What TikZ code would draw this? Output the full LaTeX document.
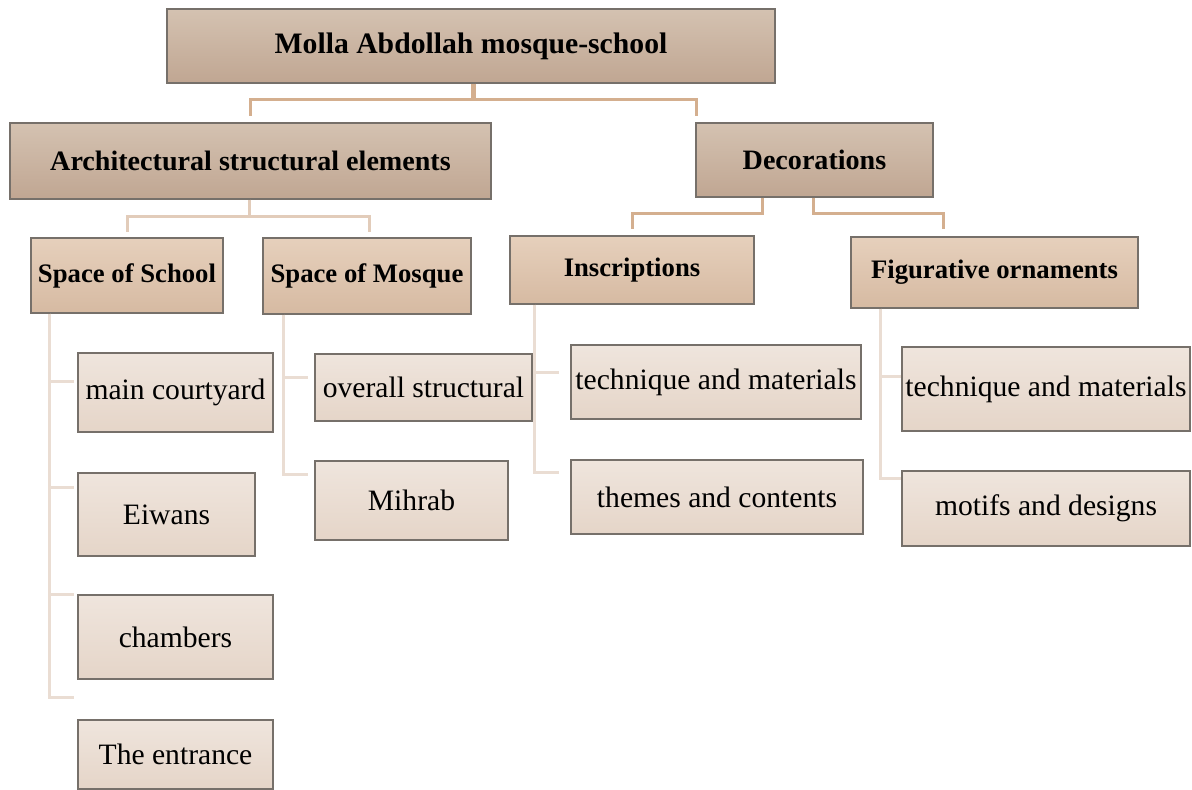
\documentclass[tikz,border=0pt]{standalone}
\usepackage{fontspec}
\setmainfont{Liberation Serif}
\definecolor{topA}{RGB}{212,194,177}
\definecolor{botA}{RGB}{192,166,146}
\definecolor{topB}{RGB}{230,208,188}
\definecolor{botB}{RGB}{214,186,162}
\definecolor{topC}{RGB}{239,229,221}
\definecolor{botC}{RGB}{229,213,200}
\definecolor{edge}{RGB}{118,112,106}
\definecolor{lineA}{RGB}{212,175,143}
\definecolor{lineB}{RGB}{226,204,186}
\definecolor{lineC}{RGB}{234,221,211}
\begin{document}
\begin{tikzpicture}[x=1pt, y=-1pt,
    box/.style={rectangle, draw=edge, line width=1.4pt, inner sep=0pt},
    lvl1/.style={box, top color=topA, bottom color=botA, font=\fontsize{28.1}{30}\selectfont\bfseries},
    lvl2/.style={box, top color=topB, bottom color=botB, font=\fontsize{26.7}{29}\selectfont\bfseries},
    leaf/.style={box, top color=topC, bottom color=botC, font=\fontsize{29.6}{32}\selectfont},
    linkA/.style={draw=lineA, line width=3pt},
    linkB/.style={draw=lineB, line width=3pt},
    linkC/.style={draw=lineC, line width=3pt}]
    \useasboundingbox (0,0) rectangle (1192,790);

    \node[lvl1, minimum width=608pt, minimum height=74pt, font=\fontsize{29.7}{32}\selectfont\bfseries] (root) at (471,46) {Molla Abdollah mosque-school};
    \node[lvl1, minimum width=481pt, minimum height=76pt] (arch) at (250.5,161) {Architectural structural elements};
    \node[lvl1, minimum width=237pt, minimum height=74pt] (deco) at (814.5,160) {Decorations};

    \node[lvl2, minimum width=192pt, minimum height=75pt] (school) at (127,275.5) {Space of School};
    \node[lvl2, minimum width=208pt, minimum height=76pt] (mosque) at (367,276) {Space of Mosque};
    \node[lvl2, minimum width=244pt, minimum height=68pt] (insc) at (632,270) {Inscriptions};
    \node[lvl2, minimum width=287pt, minimum height=71pt] (figur) at (994.5,272.5) {Figurative ornaments};

    \node[leaf, minimum width=195pt, minimum height=79pt] (court) at (175.5,392.5) {main courtyard};
    \node[leaf, minimum width=177pt, minimum height=83pt] (eiwans) at (166.5,514.5) {Eiwans};
    \node[leaf, minimum width=195pt, minimum height=84pt] (chamb) at (175.5,637) {chambers};
    \node[leaf, minimum width=195pt, minimum height=69pt] (entr) at (175.5,754.5) {The entrance};

    \node[leaf, minimum width=217pt, minimum height=67pt] (overall) at (423.5,387.5) {overall structural};
    \node[leaf, minimum width=193pt, minimum height=79pt] (mihrab) at (411.5,500.5) {Mihrab};

    \node[leaf, minimum width=290pt, minimum height=74pt] (techA) at (716,382) {technique and materials};
    \node[leaf, minimum width=292pt, minimum height=74pt] (themes) at (717,497) {themes and contents};

    \node[leaf, minimum width=288pt, minimum height=84pt] (techB) at (1046,389) {technique and materials};
    \node[leaf, minimum width=288pt, minimum height=75pt] (motifs) at (1046,508.5) {motifs and designs};

    % niveau 1
    \draw[linkA] ([xshift=1pt]root.south) -- ++(0,16) -| ([yshift=6pt]arch.north);
    \draw[linkA] ([xshift=3pt]root.south) -- ++(0,16) -| ([xshift=1pt,yshift=6pt]deco.north west);

    % niveau 2
    \draw[linkB] ([xshift=-1.5pt]arch.south) -- ++(0,17) -| ([yshift=5pt]school.north);
    \draw[linkB] ([xshift=-1.5pt]arch.south) -- ++(0,17) -| ([xshift=2pt,yshift=5pt]mosque.north);
    \draw[linkA] ([xshift=-52.5pt]deco.south) -- ++(0,16) -| ([yshift=6pt]insc.north);
    \draw[linkA] ([xshift=-1.5pt]deco.south) -- ++(0,16) -| ([xshift=-51.5pt,yshift=7pt]figur.north);

    % feuilles
    \draw[linkC] ([xshift=19pt]school.south west) |- ([xshift=-3pt,yshift=11.5pt]court.west);
    \draw[linkC] ([xshift=19pt]school.south west) |- ([xshift=-3pt,yshift=27.5pt]eiwans.west);
    \draw[linkC] ([xshift=19pt]school.south west) |- ([xshift=-3pt,yshift=43pt]chamb.west);
    \draw[linkC] ([xshift=19pt]school.south west) |- ([xshift=-3pt,yshift=57.5pt]entr.west);

    \draw[linkC] ([xshift=21pt]mosque.south west) |- ([xshift=-6pt,yshift=10.5pt]overall.west);
    \draw[linkC] ([xshift=21pt]mosque.south west) |- ([xshift=-6pt,yshift=26.5pt]mihrab.west);

    \draw[linkC] ([xshift=25pt]insc.south west) |- ([xshift=-11pt,yshift=10pt]techA.west);
    \draw[linkC] ([xshift=25pt]insc.south west) |- ([xshift=-11pt,yshift=25pt]themes.west);

    \draw[linkC] ([xshift=30pt]figur.south west) |- ([yshift=13pt]techB.west);
    \draw[linkC] ([xshift=30pt]figur.south west) |- ([yshift=30.5pt]motifs.west);
\end{tikzpicture}
\end{document}
